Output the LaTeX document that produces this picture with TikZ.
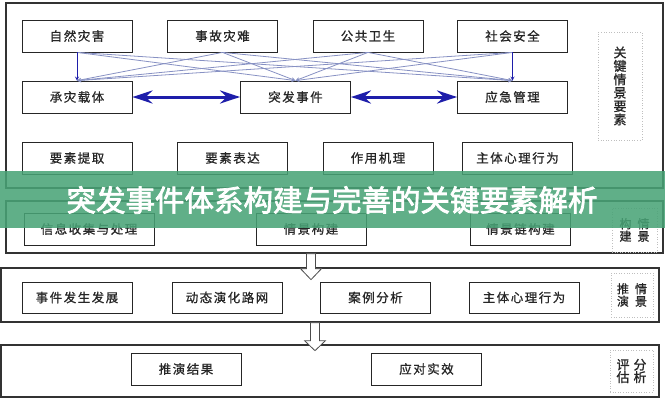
\documentclass[tikz,border=0pt]{standalone}
\usepackage{fontspec}
\newfontfamily\boxfont[LetterSpace=12,FakeBold=0.9]{Noto Sans CJK SC}
\newfontfamily\headfont[FakeBold=2.5]{Noto Sans CJK SC}
\usetikzlibrary{arrows.meta}
\tikzset{>=stealth}
\definecolor{linkblue}{RGB}{30,30,170}
\definecolor{crossblue}{RGB}{135,145,195}
\definecolor{bannergreen}{RGB}{72,163,118}
\tikzset{
  box/.style={draw=black!85, line width=0.8pt, minimum width=110pt, minimum height=32pt, inner sep=0pt, font=\boxfont\fontsize{12.5}{14}\selectfont, text=black!85},
  panel/.style={draw=black!80, line width=1.3pt, inner sep=0pt},
  tag/.style={draw=black!25, dotted, line width=0.6pt, inner sep=0pt, font=\boxfont\fontsize{12}{12.5}\selectfont, text=black!85, align=center},
  cross/.style={->, draw=crossblue, line width=0.8pt},
  feed/.style={->, draw=linkblue, line width=0.8pt},
  twoway/.style={{Stealth[length=20pt,width=13pt]}-{Stealth[length=20pt,width=13pt]}, draw=linkblue, line width=3pt},
  hollow/.style={draw=black!70, fill=white, line width=0.8pt},
  banner/.style={fill=bannergreen, opacity=0.87},
  headline/.style={font=\headfont\fontsize{29.5}{30}\selectfont, text=white}
}

\begin{document}
\begin{tikzpicture}[x=1pt, y=-1pt]
    \useasboundingbox (0,0) rectangle (665,400);
    % panels
    \node[panel, minimum width=657pt, minimum height=185pt] (p1) at (334.5,95.5) {};
    \node[panel, minimum width=657pt, minimum height=52pt] (p2) at (334.5,227) {};
    \node[panel, minimum width=658pt, minimum height=54pt] (p3) at (330,295) {};
    \node[panel, minimum width=658pt, minimum height=52pt] (p4) at (330,371) {};
    % key elements
    \node[box] (nat) at (77,36) {自然灾害};
    \node[box] (acc) at (222.5,36) {事故灾难};
    \node[box] (pub) at (368,36) {公共卫生};
    \node[box] (soc) at (512.5,36) {社会安全};
    \node[box] (car) at (77,97) {承灾载体};
    \node[box] (evt) at (295.5,97) {突发事件};
    \node[box] (mgt) at (512.5,97) {应急管理};
    \node[box] (ext) at (77,158) {要素提取};
    \node[box] (expr) at (232.5,158) {要素表达};
    \node[box] (mech) at (378,158) {作用机理};
    \node[box] (psy) at (517.5,158) {主体心理行为};
    \node[tag, minimum width=44pt, minimum height=108pt, font=\boxfont\fontsize{13}{13.4}\selectfont] (s1) at (620,86) {关\\键\\情\\景\\要\\素};
    \foreach \a/\b in {nat/evt, nat/mgt, acc/car, acc/evt, acc/mgt, pub/car, pub/evt, pub/mgt, soc/car, soc/evt}
        \draw[cross] (\a.south) -- (\b.north);
    \draw[feed] (nat) -- (car);
    \draw[feed] (soc) -- (mgt);
    \draw[twoway] (car) -- (evt);
    \draw[twoway] (evt) -- (mgt);
    % scene building
    \node[box, minimum width=130pt] (info) at (89,229) {信息收集与处理};
    \node[box] (scn) at (311,229) {情景构建};
    \node[box, minimum width=100pt] (chain) at (520.5,229) {情景链构建};
    \node[tag, minimum width=45pt, minimum height=44pt] (s2) at (634.5,230) {构\hspace{6pt}情\\建\hspace{6pt}景};
    % scene deduction
    \node[box, minimum height=31pt] (dev) at (77,297.5) {事件发生发展};
    \node[box, minimum height=31pt] (net) at (227,297.5) {动态演化路网};
    \node[box, minimum height=31pt] (case) at (375.5,297.5) {案例分析};
    \node[box, minimum height=31pt] (psyb) at (524,297.5) {主体心理行为};
    \node[tag, minimum width=42pt, minimum height=44pt] (s3) at (632,295) {推\hspace{6pt}情\\演\hspace{6pt}景};
    % evaluation
    \node[box] (res) at (186,369) {推演结果};
    \node[box] (eff) at (426.5,369) {应对实效};
    \node[tag, minimum width=43pt, minimum height=42pt, font=\boxfont\fontsize{13}{12.5}\selectfont] (s4) at (631.5,371) {评\hspace{4pt}分\\估\hspace{4pt}析};
    % hollow arrows
    \coordinate (a1) at (p2.south -| scn.south);
    \coordinate (a2) at ([xshift=-15pt]p3.south);
    \draw[hollow] (a1) ++(-4.5,0) -- ++(0,15) -- ++(-6,0) -- ++(10.5,11) -- ++(10.5,-11) -- ++(-6,0) -- ++(0,-15) -- cycle;
    \draw[hollow] (a2) ++(-4.5,0) -- ++(0,18) -- ++(-6,0) -- ++(10.5,10) -- ++(10.5,-10) -- ++(-6,0) -- ++(0,-18) -- cycle;
    % banner
    \fill[banner] (0,171) rectangle (665,228);
    \node[headline] (ttl) at (332,200) {突发事件体系构建与完善的关键要素解析};
\end{tikzpicture}
\end{document}
